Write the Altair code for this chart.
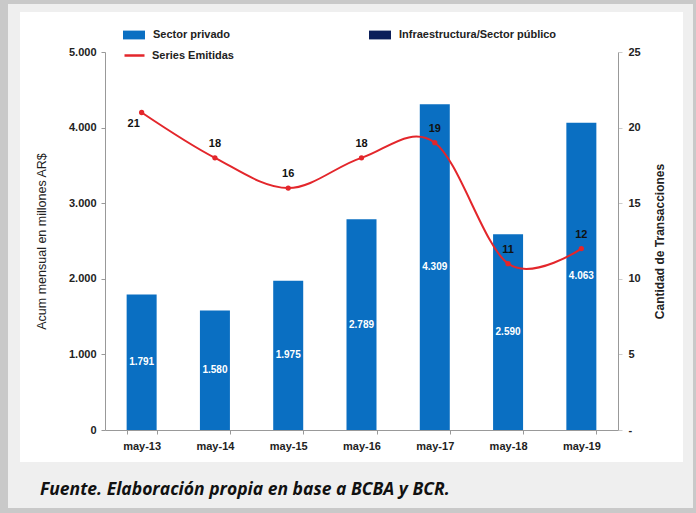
import altair as alt
import pandas as pd

months = ["may-13", "may-14", "may-15", "may-16", "may-17", "may-18", "may-19"]
privado = [1791, 1580, 1975, 2789, 4309, 2590, 4063]
series_emitidas = [21, 18, 16, 18, 19, 11, 12]

df = pd.DataFrame({"mes": months, "privado": privado, "series": series_emitidas})

FONT = "Liberation Sans"
BLUE = "#0a6fc2"
NAVY = "#0c1f5a"
RED = "#e3262b"

base = alt.Chart(df)
xenc = alt.X("mes:N", sort=months, title=None,
             scale=alt.Scale(paddingInner=0.59, paddingOuter=0.295),
             axis=alt.Axis(labelAngle=0, tickBand="extent", labelFont=FONT, labelFontWeight="bold",
                           labelFontSize=11, labelColor="#222", domainColor="#999", tickColor="#999",
                           tickSize=4, labelPadding=6, zindex=2))

# decorative frame
frame_data = alt.Data(values=[{"a": 1}])
outer = alt.Chart(frame_data).mark_rect(color="#efefef").encode(
    x=alt.value(-97), x2=alt.value(588), y=alt.value(-48), y2=alt.value(456))
panel = alt.Chart(frame_data).mark_rect(color="white").encode(
    x=alt.value(-85), x2=alt.value(578), y=alt.value(-40), y2=alt.value(410))
footer = alt.Chart(frame_data).mark_text(
    text="Fuente. Elaboración propia en base a BCBA y BCR.", font="Open Sans", fontStyle="italic",
    fontWeight="bold", fontSize=17.5, align="left", baseline="middle", color="#111").encode(
    x=alt.value(-65), y=alt.value(438))

yleft = alt.Y("privado:Q", title="Acum mensual en millones AR$",
              scale=alt.Scale(domain=[0, 5000], nice=False),
              axis=alt.Axis(values=[0, 1000, 2000, 3000, 4000, 5000], grid=False,
                            labelExpr="replace(format(datum.value, ','), ',', '.')",
                            labelFont=FONT, labelFontWeight="bold", labelFontSize=11, labelColor="#222",
                            titleFont=FONT, titleFontWeight="normal", titleFontSize=12.5, titleColor="#222",
                            titlePadding=20, domainColor="#999", tickColor="#999", tickSize=4,
                            labelPadding=5, zindex=2))

bars = base.transform_calculate(serie="'Sector privado'").mark_bar(size=30).encode(
    x=xenc, y=yleft,
    fill=alt.Fill("serie:N",
                  scale=alt.Scale(domain=["Sector privado", "Infraestructura/Sector público"],
                                  range=[BLUE, NAVY]),
                  legend=alt.Legend(title=None, orient="none", legendX=18, legendY=-28,
                                    direction="horizontal", columns=2, columnPadding=138,
                                    symbolType="M-1,-0.4H1V0.4H-1Z", symbolSize=484,
                                    symbolStrokeWidth=0, labelFont=FONT, labelFontWeight="bold",
                                    labelFontSize=11, labelColor="#222", labelOffset=8, padding=0,
                                    zindex=2)))

bar_labels = base.transform_calculate(
    mid="datum.privado / 2",
    lbl="replace(format(datum.privado, ','), ',', '.')").mark_text(
    color="white", font=FONT, fontWeight="bold", fontSize=10, baseline="middle").encode(
    x=alt.X("mes:N", sort=months), y=alt.Y("mid:Q"), text="lbl:N")

left = alt.layer(bars, bar_labels)

yright = alt.Y("series:Q", title="Cantidad de Transacciones",
               scale=alt.Scale(domain=[0, 25], nice=False),
               axis=alt.Axis(orient="right", values=[0, 5, 10, 15, 20, 25], grid=False,
                             labelExpr="datum.value == 0 ? '-' : datum.label",
                             labelFont=FONT, labelFontWeight="bold", labelFontSize=11, labelColor="#222",
                             titleFont=FONT, titleFontWeight="bold", titleFontSize=12, titleColor="#222",
                             titleAngle=270, titlePadding=26, domainColor="#999", tickColor="#ccc",
                             tickSize=4, labelPadding=6, zindex=2))

line = base.transform_calculate(serie="'Series Emitidas'").mark_line(
    interpolate="cardinal", strokeWidth=2).encode(
    x=alt.X("mes:N", sort=months), y=yright,
    stroke=alt.Stroke("serie:N", scale=alt.Scale(domain=["Series Emitidas"], range=[RED]),
                      legend=alt.Legend(title=None, orient="none", legendX=18, legendY=-8,
                                        symbolType="stroke", symbolSize=400, symbolStrokeWidth=2.5,
                                        labelFont=FONT, labelFontWeight="bold", labelFontSize=11,
                                        labelColor="#222", labelOffset=6, padding=0, zindex=2)))

points = base.mark_point(filled=True, color=RED, size=28, opacity=1).encode(
    x=alt.X("mes:N", sort=months), y=alt.Y("series:Q"))

lab_first = base.transform_filter(alt.datum.mes == months[0]).mark_text(
    font=FONT, fontWeight="bold", fontSize=11, color="#111", dx=-8, dy=12).encode(
    x=alt.X("mes:N", sort=months), y=alt.Y("series:Q"), text="series:Q")
lab_rest = base.transform_filter(alt.datum.mes != months[0]).mark_text(
    font=FONT, fontWeight="bold", fontSize=11, color="#111", dy=-14).encode(
    x=alt.X("mes:N", sort=months), y=alt.Y("series:Q"), text="series:Q")

right = alt.layer(line, points, lab_first, lab_rest)

chart = alt.layer(outer, panel, footer, left, right).resolve_scale(y="independent").properties(
    width=513, height=378,
    autosize=alt.AutoSizeParams(type="none"),
    padding={"left": 105, "top": 52, "right": 78, "bottom": 83},
    background="#c9c9c9",
).configure_view(stroke=None)

chart.save("out.html", embed_options={"renderer": "svg", "actions": False})
